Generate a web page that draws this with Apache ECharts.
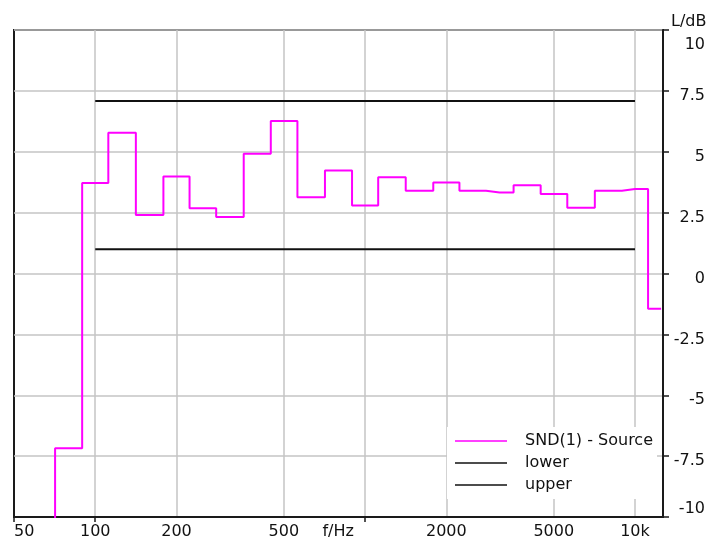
<!DOCTYPE html>
<html>
<head>
<meta charset="utf-8">
<script src="https://cdn.jsdelivr.net/npm/echarts@6/dist/echarts.min.js"></script>
<style>
html,body{margin:0;padding:0;background:#fff;}
#c{width:710px;height:540px;}
</style>
</head>
<body>
<div id="c"></div>
<script>
// 1/3-octave band centre frequencies (Hz) and measured levels (dB)
const bandFreqs = [63, 80, 100, 125, 160, 200, 250, 315, 400, 500, 630, 800, 1000, 1250, 1600, 2000, 2500, 3150, 4000, 5000, 6300, 8000, 10000, 12500];
const sourceLevels = [-14, -7.18, 3.72, 5.78, 2.4, 3.98, 2.68, 2.32, 4.92, 6.26, 3.13, 4.23, 2.79, 3.95, 3.40, 3.74, 3.40, 3.33, 3.62, 3.27, 2.70, 3.40, 3.47, -1.45];
const limitFreqs = [100, 10000];
const lowerLevels = [1.0, 1.0];
const upperLevels = [7.08, 7.08];
const xLabelValues = [50, 100, 200, 500, 1000, 2000, 5000, 10000];
const xTickValues = [50, 100, 1000];
const xGridValues = [100, 200, 500, 1000, 2000, 5000, 10000];
const seriesNames = ['SND(1) - Source', 'lower', 'upper'];

const FONT = 'DejaVu Sans';
const zip = (a, b) => a.map((v, i) => [v, b[i]]);

const chart = echarts.init(document.getElementById('c'), null, {renderer: 'canvas', width: 710, height: 540});
const xMin = 50, xMax = 12700;
const lbl = {fontSize: 16, fontFamily: FONT, color: '#111'};
chart.setOption({
  animation: false,
  backgroundColor: '#ffffff',
  textStyle: {fontFamily: FONT},
  grid: {left: 14, right: 47, top: 30, bottom: 22, show: true, borderColor: '#1a1a1a', borderWidth: 2, backgroundColor: 'transparent'},
  legend: {
    orient: 'vertical', left: 447, top: 427,
    backgroundColor: '#ffffff',
    padding: [6, 4, 6, 8],
    itemWidth: 52, itemHeight: 14, itemGap: 6,
    icon: 'path://M0,0H52V1.4H0Z',
    textStyle: {fontSize: 16, fontFamily: FONT, color: '#111', padding: [0, 0, 0, 13]},
    data: seriesNames
  },
  xAxis: [{
    type: 'log', logBase: 10, min: xMin, max: xMax,
    position: 'bottom',
    axisLine: {show: true, onZero: false, lineStyle: {color: '#1a1a1a', width: 2}},
    axisTick: {show: true, customValues: xTickValues, length: 5, lineStyle: {color: '#1a1a1a', width: 1.5}},
    splitLine: {show: false},
    minorTick: {show: false},
    axisLabel: {
      customValues: xLabelValues,
      fontSize: 16, fontFamily: FONT, color: '#111', margin: 7,
      alignMinLabel: 'left',
      formatter: function (v) {
        if (Math.abs(v - 1000) < 1) return '{n|f/Hz}';
        if (Math.abs(v - 10000) < 1) return '10k';
        return String(Math.round(v));
      },
      rich: {n: Object.assign({padding: [0, 54, 0, 0]}, lbl)}
    }
  }, {
    type: 'log', logBase: 10, min: xMin, max: xMax,
    position: 'bottom',
    axisLine: {show: false, onZero: false},
    axisLabel: {show: false},
    axisTick: {show: false, customValues: xGridValues},
    splitLine: {show: true, lineStyle: {color: '#c4c4c4', width: 1.5}}
  }],
  yAxis: {
    type: 'value', min: -10, max: 10, interval: 2.5,
    position: 'right',
    name: 'L/dB', nameLocation: 'end', nameGap: 0,
    nameTextStyle: {fontSize: 16, fontFamily: FONT, color: '#111', align: 'left', padding: [0, 0, 0, 8]},
    axisLine: {show: true, onZero: false, lineStyle: {color: '#1a1a1a', width: 2}},
    axisTick: {show: true, inside: false, length: 6, lineStyle: {color: '#1a1a1a', width: 1.5}},
    splitLine: {show: true, lineStyle: {color: '#c4c4c4', width: 1.5}},
    axisLabel: {
      fontSize: 16, fontFamily: FONT, color: '#111', align: 'right', margin: 42,
      verticalAlignMaxLabel: 'top', verticalAlignMinLabel: 'bottom',
      formatter: function (v) {
        if (v === 10) return '{t|' + v + '}';
        if (v === -10) return '{b|' + v + '}';
        return '{m|' + v + '}';
      },
      rich: {
        t: Object.assign({padding: [7, 0, 0, 0]}, lbl),
        m: Object.assign({padding: [10, 0, 0, 0]}, lbl),
        b: Object.assign({}, lbl)
      }
    }
  },
  series: [{
    name: seriesNames[0], type: 'line', step: 'middle', xAxisIndex: 0,
    data: zip(bandFreqs, sourceLevels), symbol: 'none', clip: true,
    lineStyle: {color: '#ff00ff', width: 2}, itemStyle: {color: '#ff00ff'}, z: 3
  }, {
    name: seriesNames[1], type: 'line', xAxisIndex: 0,
    data: zip(limitFreqs, lowerLevels), symbol: 'none',
    lineStyle: {color: '#111', width: 2}, itemStyle: {color: '#111'}, z: 2
  }, {
    name: seriesNames[2], type: 'line', xAxisIndex: 0,
    data: zip(limitFreqs, upperLevels), symbol: 'none',
    lineStyle: {color: '#111', width: 2}, itemStyle: {color: '#111'}, z: 2
  }]
});
</script>
</body>
</html>
